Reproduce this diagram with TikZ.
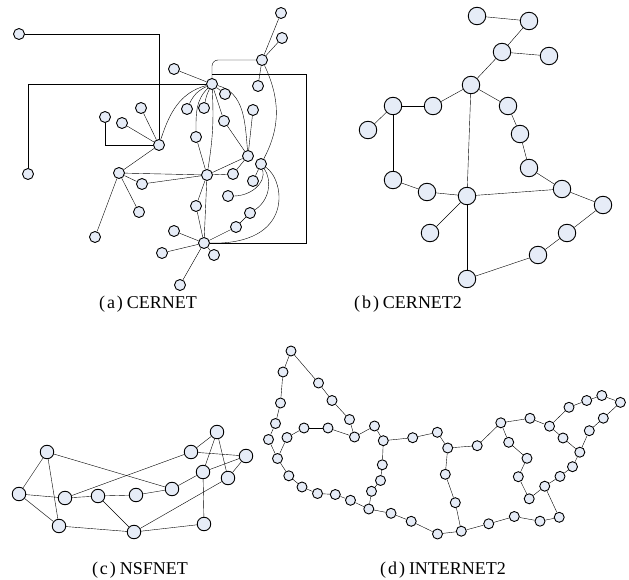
\documentclass[tikz,border=0pt]{standalone}
\usepackage{fontspec}
\setmainfont{Liberation Serif}
\usetikzlibrary{backgrounds}
\definecolor{nodefill}{RGB}{230,236,247}
\begin{document}
\begin{tikzpicture}[x=1pt,y=-1pt,
  nd/.style={circle,draw,fill=nodefill,inner sep=0pt,line width=0.9pt},
  na/.style={nd,minimum size=11pt},
  nb/.style={nd,minimum size=17.5pt},
  nc/.style={nd,minimum size=13.5pt},
  ndd/.style={nd,minimum size=10pt},
  ed/.style={line width=0.9pt},
  captxt/.style={inner sep=0pt,font=\fontsize{18}{20}\selectfont}]
\useasboundingbox (0,0) rectangle (629,580);
% ---------------- (a) CERNET ----------------
\node[na] (A1) at (19,34) {};
\node[na] (A2) at (28,174) {};
\node[na] (N1) at (174,69) {};
\node[na] (G) at (212,84) {};
\node[na] (T1) at (281,13) {};
\node[na] (T2) at (282,38) {};
\node[na] (T3) at (262,60) {};
\node[na] (T4) at (258,86) {};
\node[na] (N5) at (225,94) {};
\node[na] (N6) at (187,109) {};
\node[na] (N7) at (204,108) {};
\node[na] (N8) at (253,110) {};
\node[na] (N9) at (224,121) {};
\node[na] (N10) at (141,108) {};
\node[na] (N11) at (105,117) {};
\node[na] (N12) at (122,123) {};
\node[na] (H) at (159,145) {};
\node[na] (N13) at (196,137) {};
\node[na] (M) at (248,156) {};
\node[na] (R) at (261,164) {};
\node[na] (C) at (207,175) {};
\node[na] (L) at (119,173) {};
\node[na] (N14) at (142,184) {};
\node[na] (N15) at (233,174) {};
\node[na] (N16) at (253,181) {};
\node[na] (N17) at (228,196) {};
\node[na] (N18) at (139,212) {};
\node[na] (N19) at (95,237) {};
\node[na] (N20) at (196,206) {};
\node[na] (N21) at (250,213) {};
\node[na] (N22) at (236,227) {};
\node[na] (N23) at (174,231) {};
\node[na] (B) at (204,243) {};
\node[na] (N24) at (162,253) {};
\node[na] (N25) at (214,255) {};
\node[na] (N26) at (180,285) {};
\coordinate (rbr) at (306,243);
\coordinate (rtr) at (306,74);
\coordinate (rtl) at (212,74);
\begin{scope}[on background layer,ed]
\draw (A1) -| (H);
\draw (A2) |- (G);
\draw (N11) |- (H);
\draw (N1) -- (G);
\draw[rounded corners=6pt] (G) |- (T3);
\draw (B) -- (rbr) -- (rtr) -- (rtl);
\draw (T3) -- (T1); \draw (T3) -- (T2); \draw (T3) -- (T4);
\draw (T3) to[out=-65,in=62] (R);
\draw (H) to[out=72,in=195] (G);
\draw (G) to[out=205,in=65] (N6);
\draw (G) to[bend right=8] (N7);
\draw (G) to[out=225,in=90] (N13);
\draw (G) to[bend left=6] (C);
\draw (G) -- (N5);
\draw (G) -- (N9);
\draw (G) to[out=-15,in=95] (M);
\draw (N9) -- (M); \draw (N8) -- (M);
\draw (M) -- (C); \draw (M) -- (N15); \draw (C) -- (N15);
\draw (H) -- (N10); \draw (H) -- (N12); \draw (H) -- (L);
\draw (L) -- (C); \draw (L) -- (N14); \draw (N14) -- (C);
\draw (L) -- (N18); \draw (L) -- (N19);
\draw (C) -- (N13); \draw (C) -- (N20); \draw (C) -- (B); \draw (N20) -- (B);
\draw (R) -- (N16);
\draw (R) to[out=-75,in=0] (N17);
\draw (R) .. controls (272,180) and (270,200) .. (N21);
\draw (N21) -- (N22); \draw (N22) -- (B);
\draw (R) .. controls (285,180) and (295,245) .. (B);
\draw (B) -- (N23); \draw (B) -- (N24); \draw (B) -- (N25); \draw (B) -- (N26);
\end{scope}
\node[captxt] (capA) at (148,304) {(\kern2pt a\kern2pt)\kern4pt CERNET};
% ---------------- (b) CERNET2 ----------------
\node[nb] (b1) at (477,16) {};
\node[nb] (b2) at (529,21) {};
\node[nb] (b3) at (502,52) {};
\node[nb] (b4) at (549,56) {};
\node[nb] (b5) at (471,85) {};
\node[nb] (b6) at (393,106) {};
\node[nb] (b7) at (433,106) {};
\node[nb] (b8) at (508,106) {};
\node[nb] (b9) at (368,130) {};
\node[nb] (b10) at (520,134) {};
\node[nb] (b11) at (529,168) {};
\node[nb] (b12) at (393,180) {};
\node[nb] (b13) at (427,192) {};
\node[nb] (b14) at (467,196) {};
\node[nb] (b15) at (562,189) {};
\node[nb] (b16) at (603,205) {};
\node[nb] (b17) at (430,233) {};
\node[nb] (b18) at (567,233) {};
\node[nb] (b19) at (538,255) {};
\node[nb] (b20) at (467,279) {};
\begin{scope}[on background layer,ed]
\foreach \a/\b in {b1/b2,b2/b3,b3/b4,b3/b5,b5/b7,b7/b6,b6/b9,b6/b12,b5/b8,b8/b10,b10/b11,b11/b15,b5/b14,b12/b13,b13/b14,b14/b15,b14/b17,b14/b20,b15/b16,b16/b18,b18/b19,b19/b20}
  \draw (\a) -- (\b);
\end{scope}
\node[captxt] (capB) at (408,304) {(\kern2pt b\kern2pt)\kern4pt CERNET2};
% ---------------- (c) NSFNET ----------------
\node[nc] (c1) at (47,452) {};
\node[nc] (c2) at (19,494) {};
\node[nc] (c3) at (65,498) {};
\node[nc] (c4) at (59,526) {};
\node[nc] (c5) at (98,496) {};
\node[nc] (c6) at (136,495) {};
\node[nc] (c7) at (134,532) {};
\node[nc] (c8) at (172,489) {};
\node[nc] (c9) at (191,452) {};
\node[nc] (c10) at (217,432) {};
\node[nc] (c11) at (246,456) {};
\node[nc] (c12) at (203,472) {};
\node[nc] (c13) at (228,478) {};
\node[nc] (c14) at (204,524) {};
\begin{scope}[on background layer,ed]
\foreach \a/\b in {c1/c2,c1/c4,c1/c8,c2/c3,c2/c4,c3/c5,c3/c9,c5/c6,c5/c7,c6/c8,c8/c12,c4/c7,c7/c14,c7/c13,c9/c10,c9/c11,c10/c12,c10/c13,c12/c11,c11/c13,c12/c14}
  \draw (\a) -- (\b);
\end{scope}
\node[captxt] (capC) at (140,570) {(\kern2pt c\kern2pt)\kern4pt NSFNET};
% ---------------- (d) INTERNET2 ----------------
\node[ndd] (d1) at (291,351) {};
\node[ndd] (d2) at (283,372) {};
\node[ndd] (d3) at (280.5,403) {};
\node[ndd] (d4) at (275.5,423.5) {};
\node[ndd] (d5) at (268.5,439.5) {};
\node[ndd] (d6) at (277.5,458.5) {};
\node[ndd] (d7) at (287,437.5) {};
\node[ndd] (d8) at (304,428) {};
\node[ndd] (d9) at (328,428) {};
\node[ndd] (d10) at (354.5,437) {};
\node[ndd] (d11) at (349.5,419.5) {};
\node[ndd] (d12) at (332,400.5) {};
\node[ndd] (d13) at (318.5,383) {};
\node[ndd] (d14) at (374.5,426) {};
\node[ndd] (d15) at (383.3,440.7) {};
\node[ndd] (d16) at (382.3,464.8) {};
\node[ndd] (d17) at (380.5,480.5) {};
\node[ndd] (d18) at (371.5,491.3) {};
\node[ndd] (d19) at (368.8,509) {};
\node[ndd] (d20) at (350.5,500.3) {};
\node[ndd] (d21) at (335.3,494.5) {};
\node[ndd] (d22) at (317.5,493.5) {};
\node[ndd] (d23) at (302,487) {};
\node[ndd] (d24) at (288.8,475.8) {};
\node[ndd] (d25) at (391,513.3) {};
\node[ndd] (d26) at (411.2,521.3) {};
\node[ndd] (d27) at (437.5,534) {};
\node[ndd] (d28) at (461.3,531.2) {};
\node[ndd] (d29) at (488.7,523.8) {};
\node[ndd] (d30) at (514.3,516.5) {};
\node[ndd] (d31) at (540,521.2) {};
\node[ndd] (d32) at (559.2,517.3) {};
\node[ndd] (d33) at (412.7,437.7) {};
\node[ndd] (d34) at (437.3,432.3) {};
\node[ndd] (d35) at (447.7,448) {};
\node[ndd] (d36) at (477.2,445.7) {};
\node[ndd] (d37) at (500.8,422.8) {};
\node[ndd] (d38) at (530,418.3) {};
\node[ndd] (d39) at (549.5,426.2) {};
\node[ndd] (d40) at (569,407.3) {};
\node[ndd] (d41) at (586.7,400.5) {};
\node[ndd] (d42) at (601.8,395.5) {};
\node[ndd] (d43) at (620.4,402.4) {};
\node[ndd] (d44) at (603.3,418.2) {};
\node[ndd] (d45) at (589.3,430.7) {};
\node[ndd] (d46) at (579.8,452.2) {};
\node[ndd] (d47) at (572.5,466.7) {};
\node[ndd] (d48) at (560,476.4) {};
\node[ndd] (d49) at (544.7,486.2) {};
\node[ndd] (d50) at (529.2,498.8) {};
\node[ndd] (d51) at (518.3,476.7) {};
\node[ndd] (d52) at (527,458.3) {};
\node[ndd] (d53) at (508.7,442.3) {};
\node[ndd] (d54) at (563,438) {};
\node[ndd] (d55) at (455.3,502.7) {};
\node[ndd] (d56) at (445.3,474.3) {};
\begin{scope}[on background layer,ed]
\foreach \a/\b in {d1/d2,d2/d3,d3/d4,d4/d5,d5/d6,d1/d13,d13/d12,d12/d11,d11/d10,d10/d9,d9/d8,d8/d7,d7/d6,d10/d14,d14/d15,d15/d16,d16/d17,d17/d18,d18/d19,d6/d24,d24/d23,d23/d22,d22/d21,d21/d20,d20/d19,d19/d25,d25/d26,d26/d27,d27/d28,d28/d29,d29/d30,d30/d31,d31/d32,d15/d33,d33/d34,d34/d35,d35/d36,d36/d37,d37/d38,d38/d39,d39/d40,d40/d41,d41/d42,d42/d43,d43/d44,d44/d45,d45/d46,d46/d47,d47/d48,d48/d49,d49/d50,d50/d51,d51/d52,d52/d53,d53/d37,d39/d54,d54/d46,d49/d32,d35/d56,d56/d55,d55/d28}
  \draw (\a) -- (\b);
\end{scope}
\node[captxt] (capD) at (443,570) {(\kern2pt d\kern2pt)\kern4pt INTERNET2};
\end{tikzpicture}
\end{document}
